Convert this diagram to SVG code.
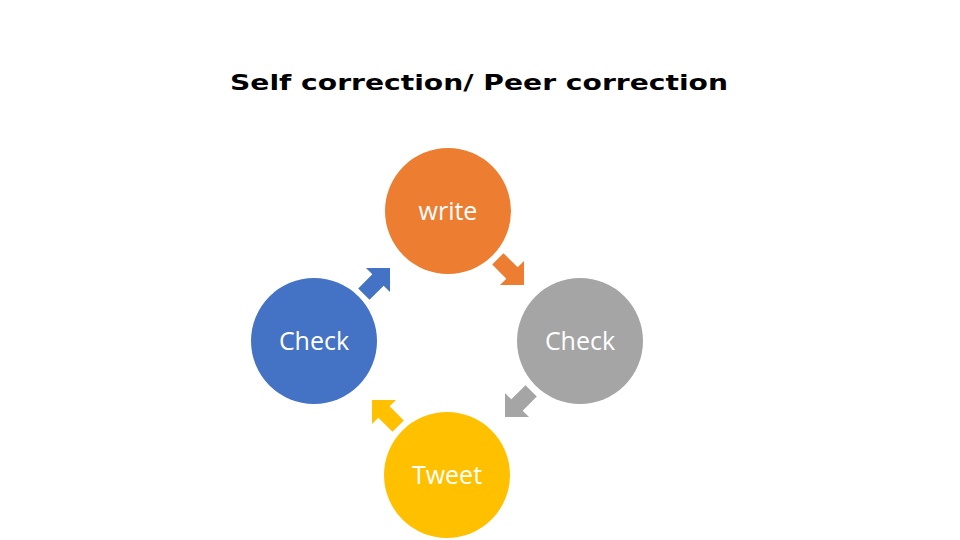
<svg xmlns="http://www.w3.org/2000/svg" width="960" height="540" viewBox="0 0 960 540">
<style>
.lbl{font-family:"Open Sans","Noto Sans",sans-serif;font-size:25px;fill:#fff;text-anchor:middle}
.title{font-family:"DejaVu Sans",sans-serif;font-weight:bold;font-size:22px;fill:#000;text-anchor:middle}
</style>
<defs>
<path id="arr" d="M-20,-8 L0,-8 L0,-17 L17,0 L0,17 L0,8 L-20,8 Z"/>
</defs>
<rect width="960" height="540" fill="#fff"/>
<text class="title" x="479" y="90" textLength="498" lengthAdjust="spacingAndGlyphs">Self correction/ Peer correction</text>
<g id="connectors">
<use href="#arr" fill="#ED7D31" transform="translate(512,273) rotate(45)"/>
<use href="#arr" fill="#A5A5A5" transform="translate(517,405) rotate(135)"/>
<use href="#arr" fill="#FFC000" transform="translate(384,412) rotate(-135)"/>
<use href="#arr" fill="#4472C4" transform="translate(378,280) rotate(-45)"/>
</g>
<g id="write"><circle cx="448" cy="211" r="63" fill="#ED7D31"/><text class="lbl" x="448" y="220">write</text></g>
<g id="check-right"><circle cx="580" cy="341" r="63" fill="#A5A5A5"/><text class="lbl" x="580" y="350">Check</text></g>
<g id="tweet"><circle cx="447" cy="475" r="63" fill="#FFC000"/><text class="lbl" x="447" y="484">Tweet</text></g>
<g id="check-left"><circle cx="314" cy="341" r="63" fill="#4472C4"/><text class="lbl" x="314" y="350">Check</text></g>
</svg>
